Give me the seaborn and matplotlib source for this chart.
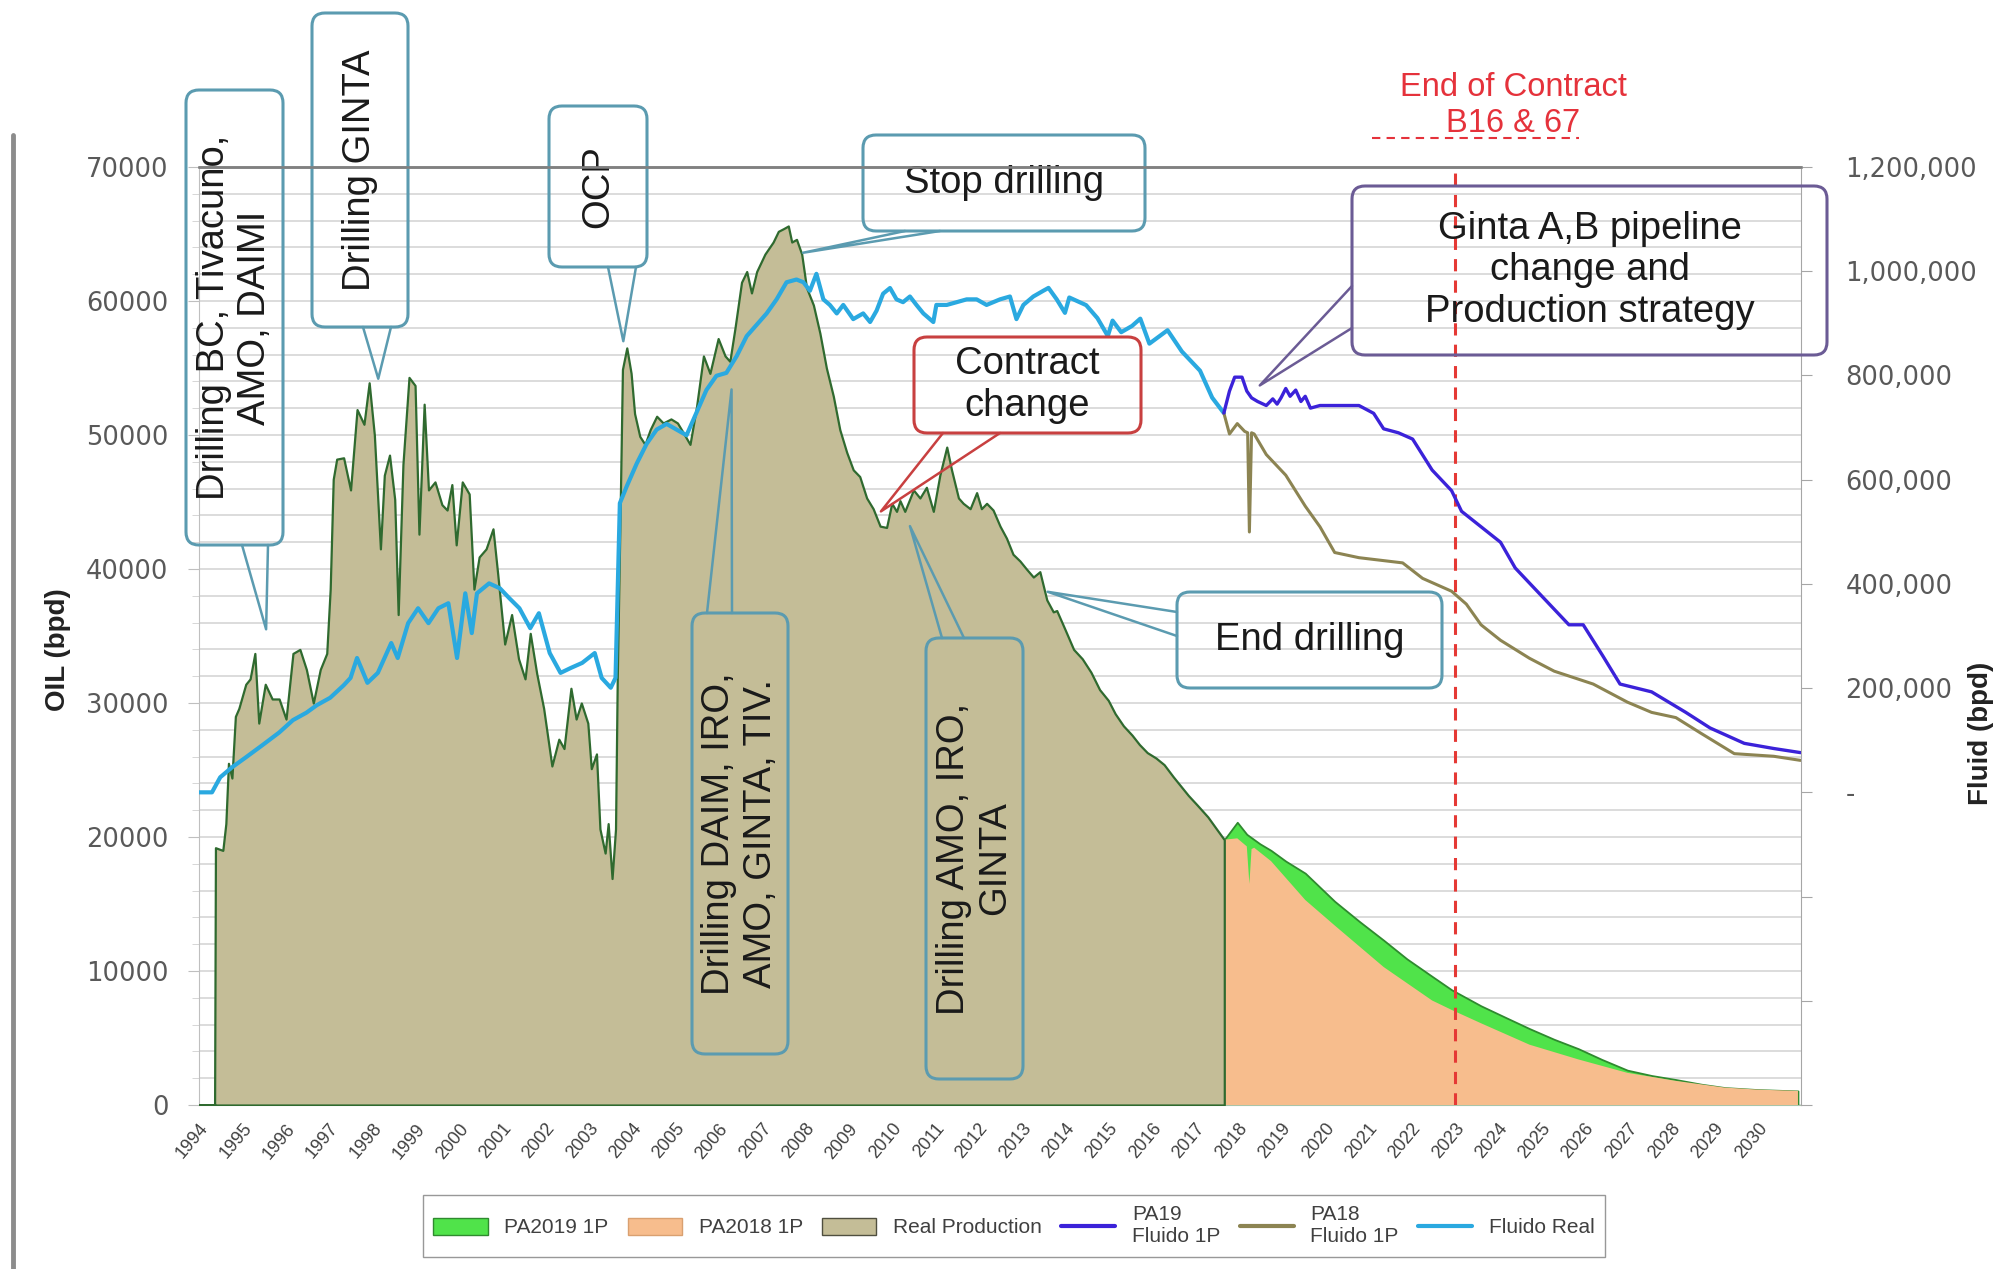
import matplotlib
matplotlib.use('Agg')
import matplotlib.pyplot as plt
import seaborn as sns
from matplotlib.patches import FancyBboxPatch, Patch
from matplotlib.lines import Line2D
from matplotlib.transforms import Affine2D

# real oil production (bpd), left axis
real_years = [1994.00, 1994.36, 1994.38, 1994.55, 1994.62, 1994.68, 1994.76, 1994.84, 1994.92,
              1995.08, 1995.18, 1995.29, 1995.38, 1995.53, 1995.69, 1995.85, 1996.01, 1996.17,
              1996.33, 1996.48, 1996.64, 1996.80, 1996.95, 1997.03, 1997.10, 1997.18, 1997.34,
              1997.50, 1997.65, 1997.81, 1997.93, 1998.05, 1998.19, 1998.28, 1998.40, 1998.52,
              1998.60, 1998.71, 1998.85, 1998.99, 1999.08, 1999.20, 1999.30, 1999.45, 1999.61,
              1999.73, 1999.84, 1999.94, 2000.08, 2000.24, 2000.35, 2000.47, 2000.63, 2000.79,
              2000.90, 2001.06, 2001.22, 2001.38, 2001.53, 2001.65, 2001.80, 2001.96, 2002.15,
              2002.31, 2002.43, 2002.59, 2002.71, 2002.83, 2002.98, 2003.06, 2003.18, 2003.26,
              2003.38, 2003.45, 2003.54, 2003.62, 2003.66, 2003.72, 2003.78, 2003.88, 2003.98,
              2004.06, 2004.18, 2004.30, 2004.42, 2004.57, 2004.72, 2004.90, 2005.05, 2005.18,
              2005.34, 2005.49, 2005.65, 2005.80, 2005.99, 2006.15, 2006.26, 2006.38, 2006.53,
              2006.65, 2006.76, 2006.88, 2007.07, 2007.26, 2007.38, 2007.50, 2007.61, 2007.69,
              2007.80, 2007.92, 2008.03, 2008.19, 2008.34, 2008.49, 2008.65, 2008.80, 2008.96,
              2009.11, 2009.26, 2009.42, 2009.57, 2009.73, 2009.88, 2010.00, 2010.11, 2010.19,
              2010.30, 2010.50, 2010.65, 2010.80, 2010.96, 2011.11, 2011.27, 2011.38, 2011.54,
              2011.65, 2011.81, 2011.96, 2012.07, 2012.19, 2012.34, 2012.50, 2012.65, 2012.80,
              2012.96, 2013.11, 2013.27, 2013.42, 2013.58, 2013.73, 2013.81, 2014.00, 2014.20,
              2014.40, 2014.60, 2014.80, 2015.00, 2015.16, 2015.35, 2015.55, 2015.72, 2015.90,
              2016.10, 2016.29, 2016.50, 2016.70, 2016.85, 2017.05, 2017.30, 2017.50, 2017.68]
real_oil = [0, 0, 19200, 19000, 21000, 25500, 24400, 29000, 29600,
            31400, 31800, 33700, 28500, 31400, 30300, 30300, 28800, 33700,
            34000, 32500, 30000, 32500, 33700, 38500, 46700, 48200, 48300,
            45900, 51900, 50800, 53900, 50000, 41500, 47000, 48500, 45200,
            36600, 47800, 54300, 53700, 42600, 52300, 45900, 46500, 44800,
            44400, 46300, 41800, 46500, 45600, 38500, 40900, 41500, 43000,
            39600, 34400, 36600, 33300, 31800, 35200, 32200, 29600, 25300,
            27300, 26600, 31100, 28800, 30000, 28500, 25100, 26200, 20600,
            18800, 21000, 16900, 20600, 31800, 43000, 54900, 56500, 54600,
            51600, 49900, 49300, 50400, 51400, 50900, 51200, 50900, 50200,
            49300, 52100, 55900, 54600, 57200, 55900, 55500, 58000, 61400,
            62200, 60600, 62200, 63500, 64400, 65200, 65400, 65600, 64400,
            64600, 63500, 61000, 59700, 57600, 55000, 52900, 50400, 48700,
            47400, 46900, 45300, 44500, 43200, 43100, 44900, 44300, 45100,
            44300, 45900, 45300, 46100, 44300, 47000, 49100, 47400, 45300,
            44900, 44500, 45700, 44500, 44900, 44400, 43200, 42300, 41100,
            40600, 40000, 39400, 39800, 37700, 36800, 36900, 35500, 34000,
            33300, 32300, 31000, 30200, 29200, 28300, 27600, 26900, 26300,
            25900, 25400, 24500, 23700, 23100, 22400, 21500, 20600, 19800]

# forecasts of oil (bpd), left axis
pa19_years = [2017.68, 2017.98, 2018.20, 2018.50, 2018.76, 2019.10, 2019.55, 2020.23, 2020.80,
              2021.36, 2021.90, 2022.48, 2022.93, 2023.61, 2024.20, 2024.73, 2025.30, 2025.86,
              2026.40, 2026.99, 2027.55, 2028.11, 2028.70, 2029.24, 2030.00, 2030.93]
pa19_oil = [19800, 21100, 20200, 19500, 19000, 18200, 17300, 15200, 13700,
            12300, 10900, 9600, 8600, 7400, 6500, 5700, 4900, 4200,
            3400, 2600, 2200, 1900, 1550, 1300, 1150, 1050]
pa18_years = [2017.68, 2017.98, 2018.20, 2018.26, 2018.31, 2018.37, 2018.76, 2019.55, 2020.23,
              2021.36, 2022.48, 2022.93, 2023.61, 2024.73, 2025.86, 2026.99, 2028.11, 2029.24,
              2030.00, 2030.93]
pa18_oil = [19800, 19900, 19300, 16500, 19100, 19200, 18200, 15300, 13400,
            10300, 7800, 7100, 6100, 4500, 3400, 2400, 1800, 1300,
            1150, 1050]

# fluid (bpd), right axis
fluid_years = [1994.00, 1994.30, 1994.49, 1994.76, 1995.08, 1995.47, 1995.85, 1996.17, 1996.48,
               1996.72, 1997.03, 1997.34, 1997.50, 1997.65, 1997.89, 1998.13, 1998.44, 1998.59,
               1998.83, 1999.06, 1999.30, 1999.53, 1999.76, 1999.96, 2000.15, 2000.30, 2000.42,
               2000.70, 2000.95, 2001.17, 2001.40, 2001.65, 2001.85, 2002.10, 2002.35, 2002.59,
               2002.85, 2003.14, 2003.30, 2003.51, 2003.62, 2003.72, 2003.88, 2004.11, 2004.34,
               2004.57, 2004.80, 2005.03, 2005.26, 2005.49, 2005.72, 2005.95, 2006.18, 2006.42,
               2006.65, 2006.88, 2007.11, 2007.34, 2007.57, 2007.80, 2007.96, 2008.11, 2008.26,
               2008.42, 2008.57, 2008.73, 2008.88, 2009.11, 2009.34, 2009.50, 2009.65, 2009.80,
               2009.96, 2010.11, 2010.26, 2010.42, 2010.57, 2010.73, 2010.96, 2011.03, 2011.27,
               2011.50, 2011.73, 2011.96, 2012.19, 2012.50, 2012.73, 2012.88, 2013.04, 2013.27,
               2013.50, 2013.62, 2013.81, 2014.00, 2014.10, 2014.49, 2014.75, 2014.99, 2015.10,
               2015.30, 2015.55, 2015.74, 2015.95, 2016.37, 2016.70, 2017.12, 2017.40, 2017.67]
fluid_real = [0, 0, 28900, 47900, 67000, 90900, 114700, 138600, 152800,
              167200, 181500, 205300, 219600, 257800, 210100, 229200, 286500, 257800,
              324600, 353300, 324600, 353300, 362900, 257800, 381900, 305600, 381900,
              401000, 391500, 372300, 353300, 315000, 343700, 267300, 229200, 238800,
              248400, 267300, 219600, 200700, 219600, 554800, 587500, 631000, 668900,
              696100, 707000, 696100, 685200, 728700, 772100, 799300, 804900, 837400,
              875500, 897200, 919000, 946000, 978800, 984100, 978800, 962500, 995000,
              946000, 935300, 919000, 935300, 908100, 919000, 902500, 924400, 956900,
              967800, 946000, 940600, 951500, 935300, 919000, 902500, 935300, 935300,
              940600, 946000, 946000, 935300, 946000, 951500, 908100, 935300, 951500,
              962500, 968000, 946000, 920100, 949600, 934900, 910000, 875700, 905200,
              883000, 895000, 909000, 861000, 886800, 846000, 809100, 757400, 727900]

pa19f_years = [2017.67, 2017.80, 2017.92, 2018.09, 2018.20, 2018.31, 2018.45, 2018.65, 2018.80,
               2018.90, 2018.99, 2019.10, 2019.20, 2019.33, 2019.45, 2019.55, 2019.67, 2019.89,
               2020.79, 2021.13, 2021.36, 2021.70, 2022.03, 2022.48, 2022.93, 2023.16, 2023.61,
               2024.06, 2024.40, 2024.85, 2025.64, 2025.97, 2026.42, 2026.82, 2027.55, 2028.34,
               2028.90, 2029.69, 2030.37, 2030.99]
pa19_fluid = [727900, 770000, 796700, 796700, 770000, 757000, 750000, 742300, 755000,
              745000, 757000, 775000, 760000, 771900, 750000, 760000, 737300, 742300,
              742300, 727300, 697600, 690000, 677900, 618500, 578900, 539300, 509600,
              479900, 430500, 390900, 321500, 321500, 262200, 207800, 192800, 153400,
              123500, 94000, 84100, 76200]
pa18f_years = [2017.67, 2017.80, 2017.98, 2018.15, 2018.22, 2018.26, 2018.31, 2018.37, 2018.65,
               2019.10, 2019.55, 2019.89, 2020.23, 2020.79, 2021.80, 2022.26, 2022.93, 2023.27,
               2023.61, 2024.06, 2024.73, 2025.30, 2026.20, 2026.99, 2027.55, 2028.11, 2028.68,
               2029.46, 2030.37, 2030.99]
pa18_fluid = [727900, 687700, 707600, 692700, 690000, 499600, 690000, 687700, 648200,
              608600, 549200, 509600, 460200, 450300, 440300, 410600, 385900, 361200,
              321500, 291800, 257200, 232500, 207800, 173100, 153400, 143400, 113800,
              74200, 69200, 61300]

tick_years = list(range(1994, 2032))
year_labels = [str(y) if y < 2031 else '' for y in tick_years]
oil_ticks = list(range(0, 70001, 10000))
fluid_ticks = list(range(-600000, 1200001, 200000))

# colours
c_real = '#C4BD97'
c_pa19 = '#50E34A'
c_pa18 = '#F7BD8D'
c_fl19 = '#3B22D9'
c_fl18 = '#8C8452'
c_flreal = '#2AA9E0'
c_box = '#5B9BB0'

sns.set_style('white')
plt.rcParams['font.family'] = ['Liberation Sans', 'DejaVu Sans']
narrow = ['Liberation Sans Narrow', 'Liberation Sans', 'DejaVu Sans']

W, H = 2010, 1269
fig = plt.figure(figsize=(W / 100, H / 100), dpi=100)
ax = fig.add_axes([199 / W, 1 - 1105 / H, (1801 - 199) / W, (1105 - 167) / H])
ax2 = ax.twinx()

# pixel coords, y from top
px = Affine2D().scale(1 / W, -1 / H).translate(0, 1) + fig.transFigure

# oil areas
ax.fill_between(pa19_years, pa19_oil, 0, facecolor=c_pa19, edgecolor='#2F8A2F', lw=1.3, zorder=2)
ax.fill_between(pa18_years, pa18_oil, 0, facecolor=c_pa18, edgecolor='none', zorder=3)
ax.fill_between(real_years, real_oil, 0, facecolor=c_real, edgecolor='#2F6A2F', lw=1.6, zorder=4)

ax.set_xlim(1994, 2031)
ax.set_ylim(0, 70000)
ax.set_yticks(oil_ticks)
ax.set_yticklabels([str(v) for v in oil_ticks], fontfamily='DejaVu Sans', fontsize=18.5, color='#595959')
ax.set_yticks(list(range(0, 70001, 2000)), minor=True)
ax.set_xticks(tick_years)
ax.set_xticklabels(year_labels, rotation=50, ha='right', rotation_mode='anchor',
                   fontfamily=narrow, fontsize=13, color='#404040')
ax.tick_params(axis='y', which='major', length=8, color='#BFBFBF', pad=14)
ax.tick_params(axis='y', which='minor', length=5, color='#D0D0D0')
ax.tick_params(axis='x', length=6, color='#B0C4B0', pad=5)
ax.grid(which='both', axis='y', color='#D6D6D6', lw=1.2)
ax.set_axisbelow(True)
ax.spines['left'].set_color('#BFBFBF')
ax.spines['bottom'].set_color('#A9C4A9')
ax.spines['right'].set_visible(False)
ax.spines['top'].set_color('#808080')
ax.spines['top'].set_linewidth(1.8)

# end of contract line
ax.axvline(2023, color='#E53935', ls=(0, (4, 3)), lw=2.2, zorder=6)

# fluid lines
sns.lineplot(x=fluid_years, y=fluid_real, ax=ax2, color=c_flreal, lw=3.0, estimator=None, sort=False, legend=False)
sns.lineplot(x=pa18f_years, y=pa18_fluid, ax=ax2, color=c_fl18, lw=2.2, estimator=None, sort=False, legend=False)
sns.lineplot(x=pa19f_years, y=pa19_fluid, ax=ax2, color=c_fl19, lw=2.4, estimator=None, sort=False, legend=False)

ax2.set_xlim(1994, 2031)
ax2.set_ylim(-600000, 1200000)
ax2.set_yticks(fluid_ticks)
ax2.set_yticklabels(['' if v < 0 else ('-' if v == 0 else f'{v:,}') for v in fluid_ticks],
                    fontfamily='DejaVu Sans', fontsize=18.5, color='#595959')
ax2.tick_params(axis='y', length=8, color='#A6A6A6', pad=24)
for s in ['top', 'left', 'bottom']:
    ax2.spines[s].set_visible(False)
ax2.spines['right'].set_color('#A6A6A6')
ax2.set_ylabel('')
ax.set_xlabel('')

fig.text(58 / W, 1 - 650 / H, 'OIL (bpd)', rotation=90, ha='center', va='center',
         fontsize=20, fontweight='bold', fontfamily=narrow, color='#222222')
fig.text(1981 / W, 1 - 733 / H, 'Fluid (bpd)', rotation=90, ha='center', va='center',
         fontsize=20, fontweight='bold', fontfamily=narrow, color='#222222')


def to_px(x, y):
    X, Y = ax.transData.transform((x, y))
    return X, H - Y


def callout(x0, y0, x1, y1, text, tip, base, ec, rot=0):
    box = FancyBboxPatch((x0, y0), x1 - x0, y1 - y0, boxstyle='round,pad=0,rounding_size=13',
                         transform=px, fc='none', ec=ec, lw=2.2, zorder=5)
    fig.add_artist(box)
    fig.text((x0 + x1) / 2, (y0 + y1) / 2, text, transform=px, ha='center', va='center',
             rotation=rot, fontsize=27.5, color='#1a1a1a', multialignment='center', zorder=6)
    tx, ty = to_px(*tip)
    (ax0, ay0), (ax1, ay1) = base
    fig.add_artist(Line2D([ax0, tx, ax1], [ay0, ty, ay1], transform=px, color=ec, lw=1.8, zorder=5))


callout(186, 90, 283, 545, 'Drilling BC, Tivacuno,\nAMO, DAIMI', (1995.55, 35500),
        [(242, 545), (268, 545)], c_box, rot=90)
callout(312, 13, 408, 327, 'Drilling GINTA', (1998.14, 54200),
        [(363, 327), (391, 327)], c_box, rot=90)
callout(549, 106, 647, 267, 'OCP', (2003.8, 57000),
        [(608, 267), (636, 267)], c_box, rot=90)
callout(863, 135, 1145, 231, 'Stop drilling', (2007.95, 63600),
        [(905, 231), (940, 231)], c_box)
callout(914, 337, 1141, 433, 'Contract\nchange', (2009.75, 44300),
        [(943, 433), (1000, 433)], '#C84040')
callout(692, 613, 788, 1054, 'Drilling DAIM, IRO,\nAMO, GINTA, TIV.', (2006.3, 53400),
        [(707, 613), (732, 613)], c_box, rot=90)
callout(926, 638, 1023, 1079, 'Drilling AMO, IRO,\nGINTA', (2010.42, 43200),
        [(942, 638), (964, 638)], c_box, rot=90)
callout(1177, 592, 1442, 688, 'End drilling', (2013.6, 38300),
        [(1177, 612), (1177, 636)], c_box)
callout(1352, 186, 1827, 355, 'Ginta A,B pipeline\nchange and\nProduction strategy', (2018.5, 53700),
        [(1352, 286), (1352, 328)], '#6B5B95')

# top border over the boxes
fig.add_artist(Line2D([199, 1801], [167, 167], transform=px, color='#808080', lw=1.8, zorder=7))

# end of contract label
fig.text(1513, 87, 'End of Contract', transform=px, ha='center', va='center',
         fontsize=23.5, color='#E5323B')
fig.text(1513, 124, 'B16 & 67', transform=px, ha='center', va='center',
         fontsize=23.5, color='#E5323B')
fig.add_artist(Line2D([1372, 1579], [138, 138], transform=px, color='#E5323B', lw=1.5,
                      ls=(0, (4, 3))))

# slide edge on the left
fig.add_artist(Line2D([13, 13], [135, 1269], transform=px, color='#8C8C8C', lw=3.5))

handles = [
    Patch(facecolor=c_pa19, edgecolor='#2F8A2F', label='PA2019 1P'),
    Patch(facecolor=c_pa18, edgecolor='#D9A070', label='PA2018 1P'),
    Patch(facecolor=c_real, edgecolor='#4F4F3F', label='Real Production'),
    Line2D([], [], color=c_fl19, lw=3, label='PA19\nFluido 1P'),
    Line2D([], [], color=c_fl18, lw=3, label='PA18\nFluido 1P'),
    Line2D([], [], color=c_flreal, lw=3, label='Fluido Real'),
]
leg = fig.legend(handles=handles, loc='upper left', ncol=6, mode='expand',
                 bbox_to_anchor=(423 / W, 1 - 1263 / H, 1182 / W, 68 / H),
                 frameon=True, fancybox=False, edgecolor='#7F7F7F',
                 prop={'family': narrow, 'size': 15}, handlelength=2.6, handleheight=0.9,
                 borderaxespad=0, borderpad=0.5, columnspacing=1.0)
for t in leg.get_texts():
    t.set_color('#404040')

fig.savefig('out.png', dpi=100)
